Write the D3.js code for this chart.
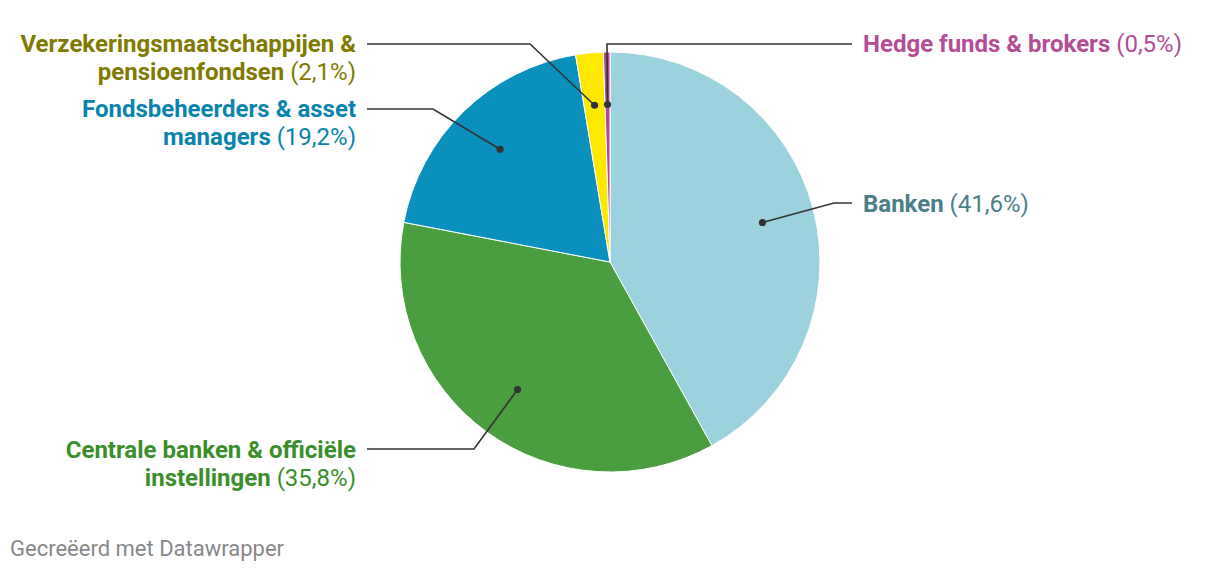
<!DOCTYPE html>
<html>
<head>
<meta charset="utf-8">
<script src="https://cdn.jsdelivr.net/npm/d3@7"></script>
<style>
  html, body { margin: 0; padding: 0; background: #fff; }
  svg { display: block; font-family: Roboto, "Noto Sans", sans-serif; }
</style>
</head>
<body>
<svg id="chart" width="1220" height="570"></svg>
<script>
// ---- data ----
const categories = [
  "Banken",
  "Centrale banken & officiële instellingen",
  "Fondsbeheerders & asset managers",
  "Verzekeringsmaatschappijen & pensioenfondsen",
  "Hedge funds & brokers"
];
const values = [41.6, 35.8, 19.2, 2.1, 0.5];
const labelLines = [
  ["Banken"],
  ["Centrale banken & officiële", "instellingen"],
  ["Fondsbeheerders & asset", "managers"],
  ["Verzekeringsmaatschappijen &", "pensioenfondsen"],
  ["Hedge funds & brokers"]
];

// ---- styles / layout ----
const sliceColors = ["#9bd2dd", "#4a9e40", "#0a90bc", "#ffe800", "#b5478f"];
const textColors  = ["#4a7f88", "#3a8f2a", "#0a83ad", "#7f7a00", "#b54c96"];
// label layout: anchor side, text x, first baseline y, elbow point, line end x
const layout = [
  { side: "start", tx: 863, ty: 212, elbow: [834, 203], endX: 852 },
  { side: "end",   tx: 356, ty: 458, elbow: [474, 449], endX: 367 },
  { side: "end",   tx: 356, ty: 117, elbow: [433, 109], endX: 367 },
  { side: "end",   tx: 356, ty: 52,  elbow: [530, 44],  endX: 367 },
  { side: "start", tx: 863, ty: 52,  elbow: [607, 44],  endX: 852 }
];
const lineHeight = 28;
const cx = 610, cy = 262, R = 210;

const svg = d3.select("#chart");
const fmt = v => "(" + d3.format(".1f")(v).replace(".", ",") + "%)";

const pie = d3.pie().sort(null).value(d => d)(values);
const arc = d3.arc().innerRadius(0).outerRadius(R);
const dotArc = d3.arc().innerRadius(R * 0.75).outerRadius(R * 0.75);

const g = svg.append("g").attr("transform", `translate(${cx},${cy})`);
g.selectAll("path.slice")
  .data(pie)
  .join("path")
  .attr("class", "slice")
  .attr("d", arc)
  .attr("fill", (d, i) => sliceColors[i])
  .attr("stroke", "#fff")
  .attr("stroke-width", 1);

// leader lines
pie.forEach((d, i) => {
  const [dx, dy] = dotArc.centroid(d);
  const px = cx + dx, py = cy + dy;
  const L = layout[i];
  svg.append("path")
    .attr("d", d3.line()([[px, py], L.elbow, [L.endX, L.elbow[1]]]))
    .attr("fill", "none")
    .attr("stroke", "#333")
    .attr("stroke-width", 1.6);
  svg.append("circle")
    .attr("cx", px).attr("cy", py).attr("r", 3.6)
    .attr("fill", "#333");
});

// labels
labelLines.forEach((lines, i) => {
  const L = layout[i];
  const t = svg.append("text")
    .attr("text-anchor", L.side)
    .attr("fill", textColors[i])
    .style("font-size", "24px");
  lines.forEach((ln, j) => {
    const ts = t.append("tspan")
      .attr("x", L.tx)
      .attr("y", L.ty + j * lineHeight);
    ts.append("tspan").attr("font-weight", 700).text(ln);
    if (j === lines.length - 1) {
      ts.append("tspan").attr("font-weight", 400).text(" " + fmt(values[i]));
    }
  });
});

svg.append("text")
  .attr("x", 10).attr("y", 556)
  .attr("fill", "#888")
  .style("font-size", "22px")
  .text("Gecreëerd met Datawrapper");
</script>
</body>
</html>
